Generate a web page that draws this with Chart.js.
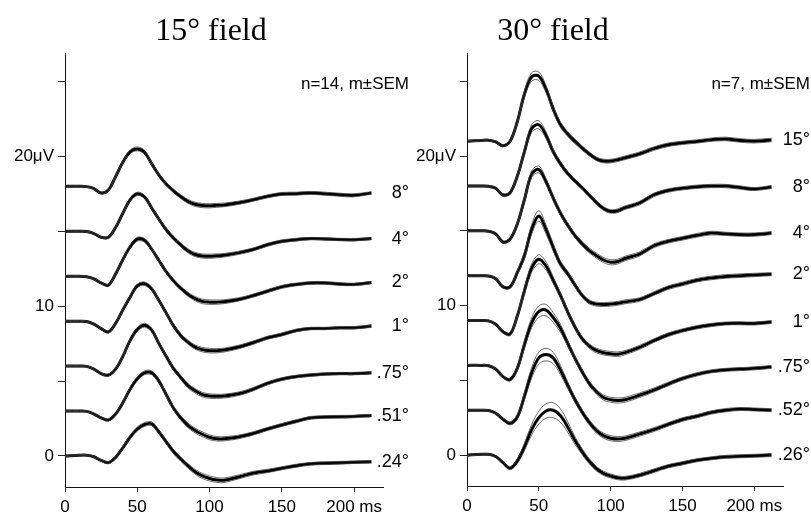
<!DOCTYPE html>
<html lang="en">
<head>
<meta charset="UTF-8">
<title>VEP by field size</title>
<script src="https://cdn.jsdelivr.net/npm/chart.js"></script>
<style>
  body { margin: 0; background: #fff; }
  #wrap { position: relative; width: 811px; height: 515px; }
  canvas { position: absolute; left: 0; top: 0; }
</style>
</head>
<body>
<div id="wrap">
  <canvas id="left" width="811" height="515"></canvas>
  <canvas id="right" width="811" height="515"></canvas>
</div>
<script>
// sample times (ms) shared by every trace
const times = [0,10,15,20,25,30,35,40,45,50,55,60,65,70,75,80,85,90,95,100,105,110,120,130,140,150,160,170,180,190,200,212];
const yTicks = [0, 5, 10, 15, 20, 25];
const xTicks = [0, 50, 100, 150, 200];

// ---- 15 deg field (n=14) : values in uV relative to each trace's baseline
const sizes15 = ['8°', '4°', '2°', '1°', '.75°', '.51°', '.24°'];
const offsets15 = [18, 15, 12, 9, 6, 3, 0];
const f15_8  = [0,0,-0.02,-0.15,-0.45,-0.25,0.65,1.6,2.3,2.5, 2.28,1.5,0.75,0.15,-0.3,-0.68,-1.0,-1.2,-1.28,-1.3, -1.27,-1.24,-1.1,-0.9,-0.67,-0.51,-0.49,-0.44,-0.49,-0.56, -0.6,-0.44];
const f15_4  = [0,0,-0.02,-0.15,-0.4,-0.4,0.25,1.2,2.1,2.5, 2.3,1.55,0.8,0.1,-0.45,-0.9,-1.3,-1.55,-1.65,-1.67, -1.64,-1.6,-1.44,-1.22,-0.9,-0.67,-0.56,-0.49,-0.51,-0.55, -0.56,-0.49];
const f15_2  = [0,0,-0.04,-0.18,-0.45,-0.6,0.15,1.1,1.95,2.47, 2.4,1.8,1.05,0.3,-0.3,-0.8,-1.2,-1.5,-1.68,-1.73, -1.73,-1.7,-1.55,-1.3,-1.0,-0.71,-0.55,-0.45,-0.45,-0.52, -0.55,-0.42];
const f15_1  = [0,0,-0.02,-0.2,-0.5,-0.72,-0.15,0.75,1.6,2.35, 2.5,2.15,1.38,0.55,-0.3,-0.95,-1.4,-1.73,-1.9,-1.97, -1.97,-1.93,-1.73,-1.44,-1.11,-0.89,-0.62,-0.49,-0.49,-0.44, -0.44,-0.33];
const f15_75 = [0,0,-0.02,-0.2,-0.5,-0.6,-0.2,0.65,1.7,2.45, 2.73,2.4,1.5,0.65,-0.15,-0.75,-1.3,-1.65,-1.9,-2.0, -2.02,-2.0,-1.85,-1.55,-1.15,-0.87,-0.7,-0.6,-0.53,-0.5, -0.5,-0.45];
const f15_51 = [0,0,-0.02,-0.2,-0.45,-0.6,-0.2,0.55,1.45,2.15, 2.55,2.55,2.0,1.1,0.2,-0.45,-0.95,-1.3,-1.55,-1.75, -1.85,-1.85,-1.73,-1.5,-1.2,-0.93,-0.68,-0.45,-0.4,-0.38, -0.36,-0.3];
const f15_24 = [0,0.05,0.05,-0.05,-0.3,-0.44,-0.1,0.55,1.25,1.8, 2.1,2.15,1.6,0.95,0.3,-0.2,-0.65,-1.05,-1.33,-1.5, -1.6,-1.62,-1.4,-1.15,-1.0,-0.82,-0.65,-0.52,-0.48,-0.45, -0.42,-0.38];
const sem15_8  = [.04,.04,.04,.05,.06,.07,.08,.1,.12,.13,.12,.11,.1,.1,.11,.12,.13,.14,.14,.14,.13,.12,.11,.1,.1,.1,.1,.1,.1,.1,.1,.08];
const sem15_4  = [.04,.04,.04,.05,.05,.06,.07,.09,.1,.11,.1,.1,.1,.11,.12,.13,.13,.14,.14,.14,.13,.12,.11,.1,.1,.09,.09,.08,.08,.08,.08,.07];
const sem15_2  = [.04,.04,.04,.05,.06,.06,.08,.1,.12,.13,.12,.1,.1,.1,.11,.12,.13,.14,.15,.15,.14,.13,.11,.1,.1,.1,.09,.09,.09,.09,.08,.08];
const sem15_1  = [.04,.04,.04,.05,.06,.07,.08,.1,.11,.12,.12,.11,.1,.1,.11,.12,.13,.14,.15,.15,.14,.13,.12,.11,.1,.1,.09,.08,.08,.08,.08,.08];
const sem15_75 = [.04,.04,.04,.05,.06,.07,.08,.1,.12,.13,.13,.12,.11,.11,.12,.13,.14,.15,.15,.15,.14,.13,.12,.11,.1,.1,.09,.09,.08,.08,.08,.08];
const sem15_51 = [.04,.04,.04,.05,.06,.07,.08,.1,.12,.13,.13,.13,.12,.12,.13,.14,.15,.16,.16,.16,.15,.14,.12,.11,.1,.1,.1,.09,.09,.09,.08,.08];
const sem15_24 = [.04,.04,.04,.05,.06,.07,.08,.1,.12,.13,.13,.13,.12,.12,.13,.14,.15,.16,.17,.17,.16,.15,.13,.12,.11,.1,.1,.09,.09,.09,.08,.08];

// ---- 30 deg field (n=7)
const sizes30 = ['15°', '8°', '4°', '2°', '1°', '.75°', '.52°', '.26°'];
const offsets30 = [21, 18, 15, 12, 9, 6, 3, 0];
const f30_15 = [0,0.05,0.07,-0.05,-0.3,0,1.3,3.16,4.3,4.35, 3.49,2.16,1.11,0.49,0,-0.44,-0.84,-1.18,-1.33,-1.33, -1.24,-1.11,-0.85,-0.5,-0.24,-0.11,-0.02,0.1,0.15,0.05, 0,0.08];
const f30_8  = [0,0,-0.02,-0.15,-0.6,-0.45,0.65,2.3,3.85,4.1, 3.4,2.3,1.5,0.85,0.35,-0.1,-0.6,-1.1,-1.5,-1.7, -1.65,-1.45,-1.15,-0.6,-0.3,-0.15,-0.05,0,0,-0.1, -0.2,-0.07];
const f30_4  = [0,0,-0.02,-0.2,-0.75,-0.55,0.45,2.1,3.8,4.1, 3.3,2.2,1.2,0.4,-0.3,-0.85,-1.3,-1.65,-1.95,-2.1, -2.05,-1.85,-1.55,-1.0,-0.7,-0.5,-0.3,-0.15,-0.2,-0.25, -0.25,-0.15];
const f30_2  = [0,0,-0.02,-0.2,-0.75,-0.75,0.2,1.35,3.1,4.0, 3.1,1.9,0.8,0.15,-0.6,-1.3,-1.75,-1.9,-1.93,-1.9, -1.85,-1.75,-1.6,-1.2,-0.8,-0.55,-0.3,-0.15,-0.05,0, 0.05,0.1];
const f30_1  = [0,0,-0.02,-0.25,-0.75,-0.9,0.3,2.0,3.5,4.1, 3.65,2.7,1.7,0.6,-0.4,-1.2,-1.7,-2.0,-2.15,-2.22, -2.25,-2.15,-1.8,-1.35,-0.95,-0.67,-0.45,-0.3,-0.2,-0.18, -0.2,-0.1];
const f30_75 = [0,0,-0.02,-0.25,-0.75,-0.95,-0.2,1.4,2.85,3.6, 3.7,3.2,2.5,1.5,0.5,-0.4,-1.2,-1.75,-2.15,-2.3, -2.35,-2.3,-2.0,-1.65,-1.25,-0.88,-0.6,-0.4,-0.3,-0.25, -0.2,-0.1];
const f30_52 = [0,0,-0.02,-0.2,-0.6,-0.88,-0.45,0.95,2.5,3.5, 3.72,3.5,2.7,1.7,0.73,-0.1,-0.8,-1.35,-1.7,-1.87, -1.93,-1.88,-1.6,-1.3,-0.95,-0.62,-0.4,-0.15,0,0.08, 0.05,0];
const f30_26 = [0,0.05,0.05,-0.1,-0.5,-0.88,-0.4,0.55,1.7,2.5, 2.95,3.0,2.65,1.9,1.0,0.25,-0.4,-0.9,-1.22,-1.4, -1.52,-1.55,-1.35,-1.05,-0.75,-0.55,-0.35,-0.22,-0.12,-0.08, -0.05,0];
const sem30_15 = [.05,.05,.05,.06,.07,.09,.15,.22,.28,.28,.24,.2,.18,.16,.15,.14,.13,.12,.12,.12,.12,.12,.12,.12,.12,.11,.11,.11,.12,.12,.12,.12];
const sem30_8  = [.05,.05,.05,.06,.07,.09,.14,.2,.26,.27,.22,.18,.15,.13,.12,.12,.12,.12,.12,.12,.12,.12,.12,.12,.11,.11,.11,.11,.11,.11,.1,.1];
const sem30_4  = [.05,.05,.05,.06,.07,.09,.13,.18,.22,.23,.2,.17,.15,.14,.14,.15,.16,.17,.17,.17,.16,.15,.14,.13,.12,.12,.12,.12,.11,.11,.11,.1];
const sem30_2  = [.05,.05,.05,.06,.07,.1,.15,.24,.32,.35,.3,.24,.18,.15,.14,.13,.13,.13,.13,.13,.13,.13,.12,.12,.12,.12,.12,.12,.12,.12,.11,.1];
const sem30_1  = [.05,.05,.05,.06,.08,.1,.14,.22,.28,.3,.27,.22,.18,.15,.14,.14,.15,.15,.15,.15,.15,.14,.13,.12,.12,.11,.11,.11,.1,.1,.1,.1];
const sem30_75 = [.05,.05,.05,.06,.08,.1,.15,.25,.33,.38,.38,.33,.26,.2,.16,.15,.15,.16,.17,.17,.17,.16,.15,.13,.12,.11,.11,.1,.1,.1,.1,.1];
const sem30_52 = [.05,.05,.05,.06,.08,.1,.16,.26,.35,.4,.42,.38,.3,.22,.18,.17,.17,.17,.17,.17,.16,.15,.14,.13,.12,.12,.11,.11,.11,.1,.1,.1];
const sem30_26 = [.05,.05,.05,.06,.08,.1,.15,.25,.35,.43,.48,.5,.45,.35,.25,.2,.17,.15,.14,.13,.13,.12,.12,.12,.11,.11,.1,.1,.1,.1,.1,.1];

const curves15 = [f15_8, f15_4, f15_2, f15_1, f15_75, f15_51, f15_24];
const sems15 = [sem15_8, sem15_4, sem15_2, sem15_1, sem15_75, sem15_51, sem15_24];
const curves30 = [f30_15, f30_8, f30_4, f30_2, f30_1, f30_75, f30_52, f30_26];
const sems30 = [sem30_15, sem30_8, sem30_4, sem30_2, sem30_1, sem30_75, sem30_52, sem30_26];

function buildDatasets(curves, sems, offsets) {
  const thin = [], thick = [];
  curves.forEach((c, i) => {
    const off = offsets[i], s = sems[i];
    const line = (sign) => times.map((t, k) => ({ x: t, y: off + c[k] + sign * s[k] }));
    thin.push({ data: line(-1), borderColor: '#444', borderWidth: 0.8 });
    thin.push({ data: line(1), borderColor: '#444', borderWidth: 0.8 });
    thick.push({ data: line(0), borderColor: '#000', borderWidth: 3 });
  });
  return thin.concat(thick);
}

function annotations(cfg) {
  return {
    id: 'annot',
    afterDraw(chart) {
      const ctx = chart.ctx, y = chart.scales.y;
      ctx.save();
      ctx.fillStyle = '#000';
      ctx.font = '32px "Liberation Serif"';
      ctx.textAlign = 'center';
      ctx.textBaseline = 'alphabetic';
      ctx.fillText(cfg.title, cfg.titleX, 40);
      ctx.font = '17px "Liberation Sans"';
      ctx.textAlign = 'right';
      ctx.fillText(cfg.note, cfg.labelRight, 89);
      ctx.font = '18px "Liberation Sans"';
      ctx.textBaseline = 'middle';
      cfg.sizes.forEach((s, i) => {
        const c = cfg.curves[i];
        ctx.fillText(s, cfg.labelRight, y.getPixelForValue(cfg.offsets[i] + c[c.length - 1]));
      });
      ctx.restore();
    }
  };
}

function makePanel(id, curves, sems, offsets, sizes, cfg) {
  const tickFont = { family: 'Liberation Sans', size: 17 };
  new Chart(document.getElementById(id), {
    type: 'line',
    data: { datasets: buildDatasets(curves, sems, offsets) },
    options: {
      responsive: false,
      animation: false,
      events: [],
      layout: { padding: { left: cfg.padLeft, right: cfg.padRight, top: 53, bottom: 0 } },
      elements: {
        point: { radius: 0 },
        line: { tension: 0.35, fill: false }
      },
      plugins: { legend: { display: false }, tooltip: { enabled: false } },
      scales: {
        x: {
          type: 'linear', min: 0, max: 220,
          afterBuildTicks: s => { s.ticks = xTicks.map(v => ({ value: v })); },
          afterFit: s => { s.height = cfg.xHeight; },
          grid: { drawOnChartArea: false, drawTicks: true, tickLength: 5, color: '#222' },
          border: { display: true, color: '#111', width: 1 },
          ticks: {
            font: tickFont, color: '#000', padding: 5, maxRotation: 0, autoSkip: false,
            callback: v => v === 200 ? '200 ms' : String(v)
          }
        },
        y: {
          type: 'linear', min: -2.07, max: 26.9,
          afterBuildTicks: s => { s.ticks = yTicks.map(v => ({ value: v })); },
          afterFit: s => { s.width = 65; },
          grid: { drawOnChartArea: false, drawTicks: true, tickLength: 7, color: '#222' },
          border: { display: true, color: '#111', width: 1 },
          ticks: {
            font: tickFont, color: '#000', padding: 4,
            callback: v => v === 20 ? '20μV' : (v === 0 || v === 10 ? String(v) : '')
          }
        }
      }
    },
    plugins: [annotations(Object.assign({ curves, offsets, sizes }, cfg))]
  });
}

makePanel('left', curves15, sems15, offsets15, sizes15, {
  padLeft: 0, padRight: 811 - 383, xHeight: 28,
  title: '15° field', titleX: 211, note: 'n=14, m±SEM', labelRight: 409
});
makePanel('right', curves30, sems30, offsets30, sizes30, {
  padLeft: 402, padRight: 28, xHeight: 29,
  title: '30° field', titleX: 553, note: 'n=7, m±SEM', labelRight: 810
});
</script>
</body>
</html>
